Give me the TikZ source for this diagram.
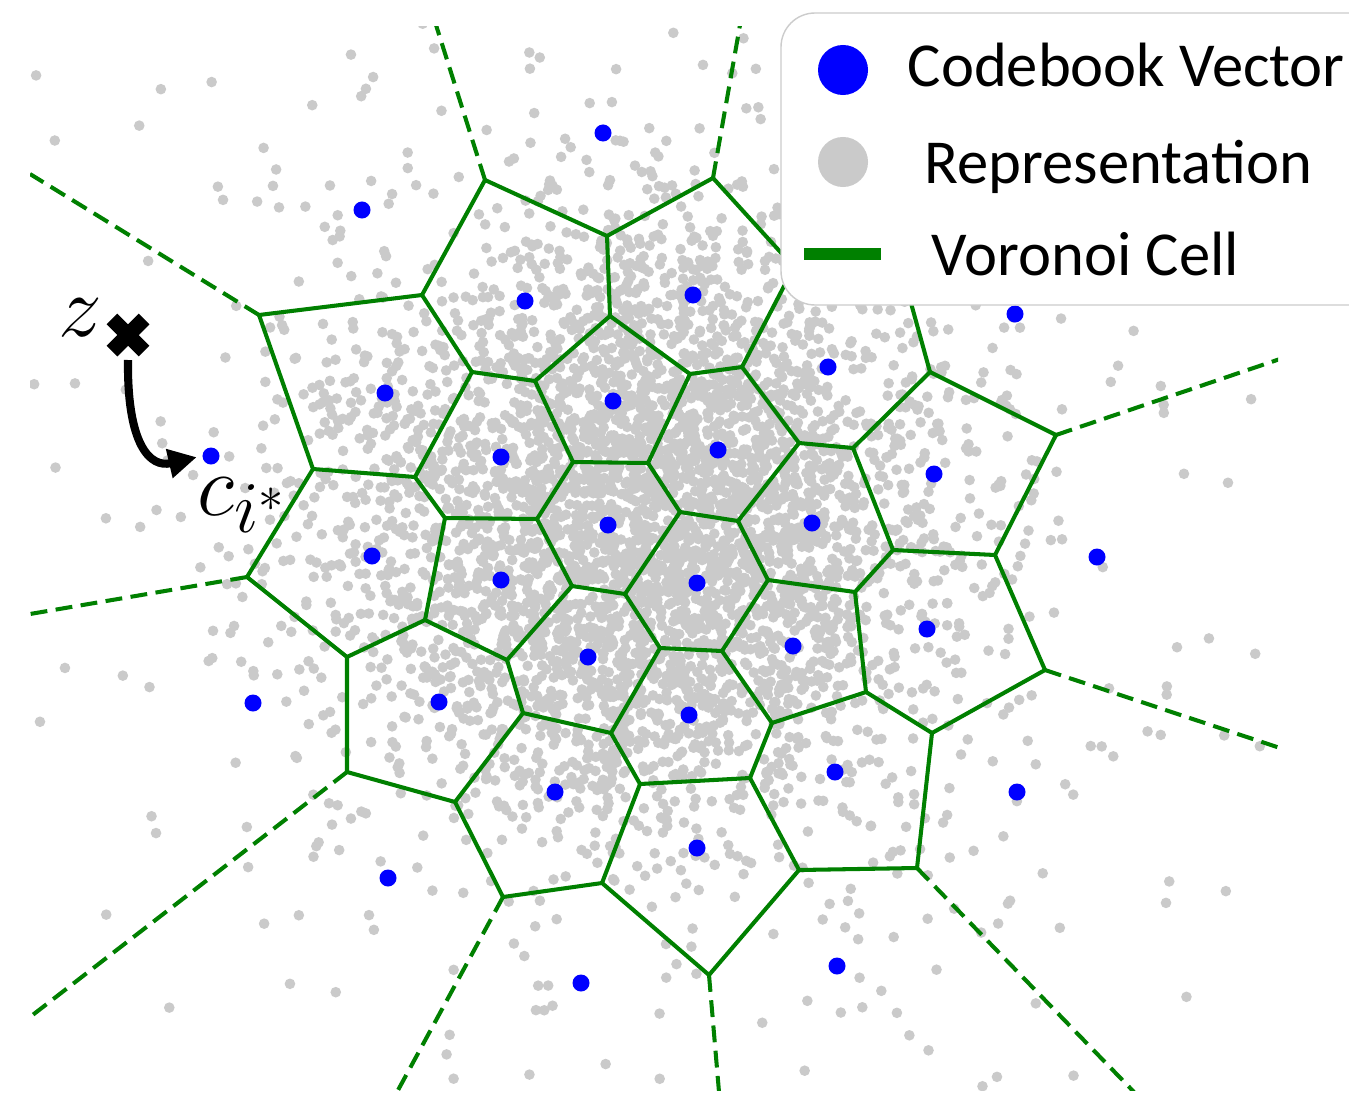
\documentclass[tikz,border=0pt]{standalone}
\usepackage{fontspec}
\newfontfamily\legendfont{Carlito}
\usetikzlibrary{arrows.meta}

\definecolor{cellgreen}{RGB}{0,128,0}
\definecolor{codeblue}{RGB}{0,0,255}
\definecolor{repgray}{RGB}{202,202,202}
\definecolor{framegray}{RGB}{204,204,204}

\begin{document}
\begin{tikzpicture}[x=0.01cm,y=-0.01cm,
  cell/.style={draw=cellgreen,line width=1.15pt},
  ray/.style={cell,dash pattern=on 4.8pt off 2.4pt},
  rep/.style={fill=repgray},
  codeword/.style={circle,fill=codeblue,inner sep=0pt,minimum size=0.17cm},
  repdot/.style={circle,fill=repgray,inner sep=0pt,minimum size=0.1cm},
  legendtext/.style={anchor=base west,inner sep=0pt,font=\legendfont\fontsize{17.8}{21}\selectfont},
  mathlabel/.style={inner sep=0pt,font=\fontsize{28}{30}\selectfont},
  zarrow/.style={line width=2.3pt,-{Triangle[length=8pt,width=8pt]},shorten >=1.5pt}]

  \clip (0,0) rectangle (1349,1094);
  \fill[white] (0,0) rectangle (1349,1094);

  % voronoi vertices
  \coordinate (p1) at (485,180);  \coordinate (p2) at (607,236);
  \coordinate (p3) at (713,178);  \coordinate (p4) at (794,267);
  \coordinate (p5) at (422,295);  \coordinate (p6) at (259,315);
  \coordinate (p7) at (610,316);  \coordinate (p8) at (535,381);
  \coordinate (p9) at (472,372);  \coordinate (p10) at (690,374);
  \coordinate (p11) at (742,367); \coordinate (p12) at (799,443);
  \coordinate (p13) at (853,448); \coordinate (p14) at (930,372);
  \coordinate (p15) at (906,285); \coordinate (p16) at (1056,435);
  \coordinate (p17) at (573,462); \coordinate (p18) at (648,463);
  \coordinate (p19) at (680,512); \coordinate (p20) at (738,521);
  \coordinate (p21) at (415,477); \coordinate (p22) at (313,469);
  \coordinate (p23) at (537,519); \coordinate (p24) at (445,518);
  \coordinate (p25) at (995,555); \coordinate (p26) at (893,550);
  \coordinate (p27) at (855,592); \coordinate (p28) at (768,580);
  \coordinate (p29) at (625,594); \coordinate (p30) at (572,586);
  \coordinate (p31) at (660,648); \coordinate (p32) at (722,651);
  \coordinate (p33) at (425,620); \coordinate (p34) at (507,660);
  \coordinate (p35) at (247,577); \coordinate (p36) at (347,657);
  \coordinate (p37) at (866,692); \coordinate (p38) at (772,723);
  \coordinate (p39) at (1045,670); \coordinate (p40) at (932,733);
  \coordinate (p41) at (917,868); \coordinate (p42) at (799,870);
  \coordinate (p43) at (750,778); \coordinate (p44) at (640,784);
  \coordinate (p45) at (611,733); \coordinate (p46) at (523,713);
  \coordinate (p47) at (455,802); \coordinate (p48) at (347,772);
  \coordinate (p49) at (503,897); \coordinate (p50) at (602,883);
  \coordinate (p51) at (709,975);

  % far ends of the open cells
  \coordinate (e1) at (436,25);   \coordinate (e2) at (740,25);
  \coordinate (e3) at (30,174);   \coordinate (e4) at (30,614);
  \coordinate (e5) at (30,1017);  \coordinate (e6) at (397,1092);
  \coordinate (e7) at (719,1092); \coordinate (e8) at (1134,1092);
  \coordinate (e9) at (1280,748); \coordinate (e10) at (1280,359);

  \begin{scope}
    \clip (30,27) rectangle (1278,1090);
    % representations
    \pgfmathsetseed{2718}
    \foreach \k in {1,...,4200}{%
      \pgfmathsetmacro{\drad}{152*sqrt(-2*ln(0.0002+0.9998*rnd))}%
      \pgfmathsetmacro{\dang}{360*rnd}%
      \fill[rep] (648,520) ++(\dang:\drad) circle[radius=0.053cm];
    }
    \foreach \k in {1,...,500}{%
      \pgfmathsetmacro{\drad}{380*sqrt(-2*ln(0.0002+0.9998*rnd))}%
      \pgfmathsetmacro{\dang}{360*rnd}%
      \fill[rep] (648,520) ++(\dang:\drad) circle[radius=0.053cm];
    }

    % cells
    \draw[cell] (p6) -- (p5) -- (p1) -- (p2) -- (p3) -- (p4) -- (p11) -- (p12)
      -- (p13) -- (p14) -- (p16) -- (p25) -- (p39) -- (p40) -- (p41) -- (p42)
      -- (p51) -- (p50) -- (p49) -- (p47) -- (p48) -- (p36) -- (p35) -- (p22) -- cycle;
    \foreach \a/\b in {2/7,7/8,8/9,9/5,11/10,10/7,9/21,21/22,10/18,18/17,17/8,
        17/23,23/24,24/21,12/20,20/19,19/18,14/15,13/26,26/25,26/27,27/28,
        28/20,19/29,29/30,30/23,29/31,31/32,32/28,24/33,33/34,34/30,36/33,
        27/37,37/38,38/32,40/37,42/43,43/38,43/44,44/45,45/31,45/46,46/34,
        46/47,50/44}
      \draw[cell] (p\a) -- (p\b);
    \foreach \a/\b in {1/1,3/2,6/3,35/4,48/5,49/6,51/7,41/8,39/9,16/10}
      \draw[ray] (p\a) -- (e\b);
  \end{scope}

  % codebook vectors
  \foreach \cx/\cy [count=\k] in {603/133,362/210,525/301,693/295,1015/314,
      385/393,613/401,828/367,501/457,718/450,934/474,372/556,608/525,
      812/523,1097/557,501/580,697/583,927/629,253/703,439/702,588/657,
      793/646,689/715,835/772,1017/792,555/792,697/848,388/878,581/983,837/966}
    \node[codeword] (c\k) at (\cx,\cy) {};
  \node[codeword] (cstar) at (211,456) {};

  % legend
  \draw[framegray,fill=white,line width=0.4pt,rounded corners=0.34cm]
    (781,13) rectangle (1420,305);
  \node[codeword,minimum size=0.5cm] (lgcode) at (843,70) {};
  \node[repdot,minimum size=0.5cm] (lgrep) at (843,162) {};
  \draw[cellgreen,line width=3.6pt] (804,254) -- (881,254);
  \node[legendtext] (lgcodetxt) at (907,87) {Codebook Vector};
  \node[legendtext] (lgreptxt) at (924,183) {Representation};
  \node[legendtext] (lgcelltxt) at (931,275) {Voronoi Cell};

  % query and its nearest codeword
  \coordinate (zmark) at (128,335);
  \coordinate (zfoot) at (128,360);
  \fill[black,shift={(zmark)},rotate=45,scale=7.6]
    (-1,-3) -- (1,-3) -- (1,-1) -- (3,-1) -- (3,1) -- (1,1) -- (1,3)
    -- (-1,3) -- (-1,1) -- (-3,1) -- (-3,-1) -- (-1,-1) -- cycle;
  \node[mathlabel] (zlabel) at (80,318) {$z$};
  \node[mathlabel,anchor=base west] (clabel) at (197,515) {$c_{i^*}$};
  \draw[zarrow] (zfoot) .. controls (127,445) and (150,468) .. (cstar.west);
\end{tikzpicture}
\end{document}
